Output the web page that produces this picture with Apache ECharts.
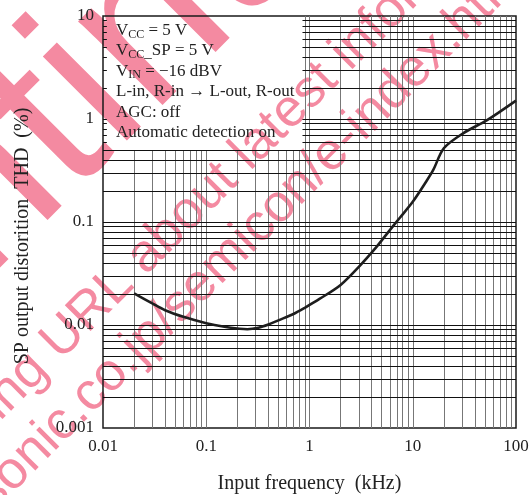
<!DOCTYPE html>
<html><head><meta charset="utf-8">
<script src="https://cdn.jsdelivr.net/npm/echarts@6/dist/echarts.min.js"></script>
<style>html,body{margin:0;padding:0;background:#fff}#c{width:530px;height:495px}</style>
</head><body><div id="c"></div>
<script>
// ---- data ----
const freqKHz = [0.02, 0.03, 0.04, 0.06, 0.1, 0.15, 0.21, 0.25, 0.32, 0.4, 0.5, 0.7, 0.9, 1.26, 2, 3.1, 4.5, 6, 7.5, 10, 13.6, 15.8, 20, 31, 52, 100];
const thdPct  = [0.0203, 0.0162, 0.0139, 0.012, 0.0104, 0.0096, 0.0092, 0.0091, 0.0094, 0.0101, 0.0111, 0.0128, 0.0147, 0.018, 0.0245, 0.038, 0.058, 0.0835, 0.11, 0.157, 0.25, 0.32, 0.52, 0.73, 0.97, 1.51];

const xTickLabels = ['0.01', '0.1', '1', '10', '100'];
const yTickLabels = ['0.001', '0.01', '0.1', '1', '10'];

const xGridValues = [0.02,0.03,0.04,0.05,0.06,0.07,0.08,0.09,0.1,0.2,0.3,0.4,0.5,0.6,0.7,0.8,0.9,1,2,3,4,5,6,7,8,9,10,20,30,40,50,60,70,80,90];
const yGridValues = [0.002,0.003,0.004,0.005,0.006,0.007,0.008,0.009,0.01,0.02,0.03,0.04,0.05,0.06,0.07,0.08,0.09,0.1,0.2,0.3,0.4,0.5,0.6,0.7,0.8,0.9,1,2,3,4,5,6,7,8,9];

const xName = 'Input frequency  (kHz)';
const yName = 'SP output distorition  THD  (%)';

const legendLines = [
  'V{s|CC} = 5 V',
  'V{s|CC}{u|_}SP = 5 V',
  'V{s|IN} = \u221216 dBV',
  'L-in, R-in \u2192 L-out, R-out',
  'AGC: off',
  'Automatic detection on'
];

const watermarkBig = 'Discontinued';
const watermarkLine1 = 'Please visit following URL about latest information.';
const watermarkLine2 = 'http://panasonic.co.jp/semicon/e-index.html';

// ---- layout ----
const X_MIN = 0.01, X_MAX = 100, Y_MIN = 0.001, Y_MAX = 10;
const BOX_X_END = 0.855, BOX_Y_START = 0.5, TICK_END = 0.0109;
const SERIF = '"Liberation Serif", "Times New Roman", serif';
const SANS = '"Liberation Sans", Arial, sans-serif';
const PINK = '#f48aa1';

const vSegs = xGridValues.map(x => ({
  coords: [[x, Y_MIN], [x, x < BOX_X_END ? BOX_Y_START : Y_MAX]]
}));
const hSegs = [];
yGridValues.forEach(y => {
  if (y > BOX_Y_START) {
    hSegs.push({coords: [[X_MIN, y], [TICK_END, y]]});
    hSegs.push({coords: [[BOX_X_END, y], [X_MAX, y]]});
  } else {
    hSegs.push({coords: [[X_MIN, y], [X_MAX, y]]});
  }
});

function labelFor(arr, offset) {
  return function (v) {
    const e = Math.round(Math.log10(v));
    return arr[e + offset] || '';
  };
}

const chart = echarts.init(document.getElementById('c'), null, {renderer: 'canvas'});

const S2 = Math.SQRT1_2;
function wmAnchor(px, py, fs) { // baseline point -> anchor for verticalAlign middle
  const d = 0.3465 * fs * S2;
  return [px - d, py - d];
}
const bigA = wmAnchor(-403, 693, 225);
const l1A = wmAnchor(-293, 720, 53);
const l2A = wmAnchor(-181.4, 692.4, 53);

const legendGraphics = legendLines.map((t, i) => ({
  type: 'text',
  x: 116,
  y: 30.5 + i * 20.4,
  z: 50,
  style: {
    text: t,
    font: '17px ' + SERIF,
    fill: '#222',
    align: 'left',
    verticalAlign: 'middle',
    lineHeight: 20,
    rich: {
      s: {fontSize: 12, fontFamily: 'Liberation Serif', fill: '#222', lineHeight: 12, padding: [4, 0, 0, 0], verticalAlign: 'bottom'},
      u: {fontSize: 15, fontFamily: 'Liberation Serif', fill: '#222', lineHeight: 14, padding: [0, 0, 0, 0], verticalAlign: 'bottom'}
    }
  }
}));

chart.setOption({
  animation: false,
  backgroundColor: '#fff',
  grid: {
    left: 103, right: 14, top: 16, bottom: 67,
    outerBoundsMode: 'none', containLabel: false,
    show: true, borderColor: '#1a1a1a', borderWidth: 1.5, backgroundColor: 'transparent'
  },
  xAxis: {
    type: 'log', logBase: 10, min: X_MIN, max: X_MAX,
    name: xName, nameLocation: 'middle', nameGap: 46,
    nameTextStyle: {fontFamily: 'Liberation Serif', fontSize: 20, color: '#222'},
    axisLine: {show: false}, axisTick: {show: false}, splitLine: {show: false},
    axisLabel: {formatter: labelFor(xTickLabels, 2), fontFamily: 'Liberation Serif', fontSize: 17, color: '#222', margin: 10}
  },
  yAxis: {
    type: 'log', logBase: 10, min: Y_MIN, max: Y_MAX,
    name: yName, nameLocation: 'middle', nameGap: 70, nameRotate: 90,
    nameTextStyle: {fontFamily: 'Liberation Serif', fontSize: 20, color: '#222', padding: [0, 28, 0, 0]},
    axisLine: {show: false}, axisTick: {show: false}, splitLine: {show: false},
    axisLabel: {formatter: labelFor(yTickLabels, 3), fontFamily: 'Liberation Serif', fontSize: 17, color: '#222', margin: 9}
  },
  graphic: [
    {type: 'text', x: bigA[0], y: bigA[1], rotation: Math.PI / 4, z: -100,
      style: {text: watermarkBig, font: '225px ' + SANS, fill: PINK, align: 'left', verticalAlign: 'middle'}},
    {type: 'text', x: l1A[0], y: l1A[1], rotation: Math.PI / 4, z: -100,
      style: {text: watermarkLine1, font: '53px ' + SANS, fill: PINK, align: 'left', verticalAlign: 'middle'}},
    {type: 'text', x: l2A[0], y: l2A[1], rotation: Math.PI / 4, z: -100,
      style: {text: watermarkLine2, font: '53px ' + SANS, fill: PINK, align: 'left', verticalAlign: 'middle'}}
  ].concat(legendGraphics),
  series: [
    {
      type: 'lines', coordinateSystem: 'cartesian2d', silent: true, z: 2,
      lineStyle: {color: '#777', width: 1, opacity: 1},
      data: vSegs
    },
    {
      type: 'lines', coordinateSystem: 'cartesian2d', silent: true, z: 2,
      lineStyle: {color: '#111', width: 1, opacity: 1},
      data: hSegs
    },
    {
      type: 'line', z: 5, silent: true,
      data: freqKHz.map((f, i) => [f, thdPct[i]]),
      showSymbol: false, smooth: 0.3,
      lineStyle: {color: '#1e1e1e', width: 2.6}
    }
  ]
});
</script></body></html>
